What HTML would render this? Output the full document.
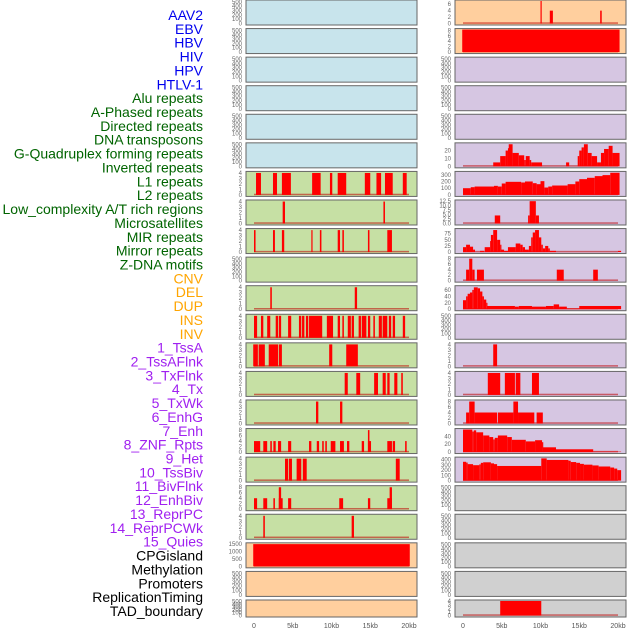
<!DOCTYPE html>
<html><head><meta charset="utf-8"><style>
html,body{margin:0;padding:0;background:#fff;width:630px;height:630px;overflow:hidden}
svg{display:block;font-family:"Liberation Sans",sans-serif}
</style></head><body>
<svg id="chart" width="630" height="630" viewBox="0 0 630 630" xmlns="http://www.w3.org/2000/svg">
<g id="labels"></g>
<g id="panels"></g>
<g id="xaxis"></g>
</svg>
<script>
// ---- labels ----
const labelNames = ["AAV2","EBV","HBV","HIV","HPV","HTLV-1","Alu repeats","A-Phased repeats","Directed repeats","DNA transposons","G-Quadruplex forming repeats","Inverted repeats","L1 repeats","L2 repeats","Low_complexity A/T rich regions","Microsatellites","MIR repeats","Mirror repeats","Z-DNA motifs","CNV","DEL","DUP","INS","INV","1_TssA","2_TssAFlnk","3_TxFlnk","4_Tx","5_TxWk","6_EnhG","7_Enh","8_ZNF_Rpts","9_Het","10_TssBiv","11_BivFlnk","12_EnhBiv","13_ReprPC","14_ReprPCWk","15_Quies","CPGisland","Methylation","Promoters","ReplicationTiming","TAD_boundary"];
const labelGroups = [6,13,5,15,5];
const labelColors = ["#0000ee","#006400","#ffa500","#a020f0","#000000"];

// ---- x axis ----
const xTicks = [0,5,10,15,20];
const xTickLabels = ["0","5kb","10kb","15kb","20kb"];

// ---- left column interval tracks (kb start, kb end, value) ----
const L6 = [[0.26,0.9,4],[2.45,2.97,4],[3.6,4.76,4],[7.5,8.6,4],[9.8,10.1,4],[10.8,11.9,4],[14.3,15.0,4],[15.8,16.4,4],[16.9,17.9,4],[19.2,19.7,4]];
const L7 = [[3.7,4.0,4],[16.7,16.9,4]];
const L8 = [[0,0.2,4],[2.45,2.7,4],[3.6,3.9,4],[7.4,7.55,4],[8.5,8.7,4],[10.8,11.1,4],[11.4,11.6,4],[14.7,14.9,4],[17.2,17.8,4]];
const L10 = [[2.1,2.3,4],[13.0,13.3,4]];
const L11 = [[0,0.4,4],[0.9,1.2,4],[1.7,2.1,4],[2.8,3.1,4],[3.2,3.5,4],[4.4,4.8,4],[5.8,6.1,4],[6.2,6.5,4],[6.7,7.0,4],[7.1,8.8,4],[9.4,10.2,4],[10.8,11.1,4],[11.4,11.6,4],[12.1,12.5,4],[12.6,12.9,4],[13.5,13.8,4],[13.9,14.5,4],[14.7,15.0,4],[15.4,15.6,4],[16.1,16.5,4],[16.6,17.2,4],[17.4,17.7,4],[17.9,18.2,4],[19.2,19.5,4]];
const L12 = [[-0.1,0.5,4],[0.6,1.4,4],[1.9,3.1,4],[3.2,3.6,4],[9.7,10.1,4],[11.9,13.4,4]];
const L13 = [[11.7,12.1,4],[13.2,13.7,4],[15.5,16.0,4],[16.6,17.0,4],[17.2,17.5,4],[18.1,18.5,4],[19.0,19.2,4]];
const L14 = [[8.0,8.3,4],[11.1,11.4,4]];
const L15 = [[0,0.8,4],[1.2,1.7,4],[2.1,2.3,4],[2.5,2.8,4],[3.1,3.5,4],[4.4,4.8,4],[7.1,7.4,4],[8.1,8.4,4],[8.8,9.0,4],[9.2,9.4,4],[9.9,10.5,4],[11.1,11.6,4],[12.0,12.3,4],[13.9,14.2,4],[14.7,15.1,4],[14.7,14.9,8],[17.2,17.8,4],[17.9,18.2,4],[19.5,19.7,4]];
const L16 = [[4.0,4.4,4],[4.5,4.9,4],[5.5,6.1,4],[6.3,6.8,4],[18.3,18.8,4]];
const L17 = [[0,0.4,4],[1.2,1.7,4],[2.5,2.7,4],[3.2,3.7,4],[3.2,3.5,8],[4.4,4.8,4],[11.0,11.5,4],[14.7,15.0,4],[17.2,17.8,4],[17.5,17.8,8]];
const L18 = [[1.2,1.4,4],[12.6,12.9,4]];
const L19 = [[-0.1,20.1,1480]];

// ---- right column tracks ----
const R0 = [[10.0,10.12,7.5],[11.2,11.6,4],[17.7,17.9,4]];
const R1 = [[-0.1,20.2,8.3]];
const R5 = [[3.9,4.8,5],[4.8,5.5,13],[5.5,5.8,20],[5.8,5.9,23],[5.9,6.4,28],[6.4,7.2,17],[7.2,7.9,14],[7.9,8.1,8],[8.1,8.6,13],[8.6,8.8,8],[8.8,10.2,5],[13.3,13.7,5],[14.8,15.0,13],[15.0,15.3,20],[15.3,15.6,24],[15.6,16.1,28],[16.1,16.6,17],[16.6,17.3,13],[17.3,17.8,5],[17.8,18.2,17],[18.2,18.8,22],[18.8,19.3,26],[19.3,20.2,17]];
const R6 = [[0,1,100],[1,1.5,115],[1.5,4,125],[4,4.5,135],[4.5,5,125],[5,5.5,170],[5.5,7.5,195],[7.5,8,185],[8,9,200],[9,9.5,175],[9.5,10,160],[10,10.5,205],[10.5,11,110],[11,11.5,125],[11.5,13.5,140],[13.5,14.5,160],[14.5,15,200],[15,16,235],[16,17,255],[17,18,280],[18,19,295],[19,20.2,330]];
const R7 = [[4.1,4.8,4.5],[8.4,8.6,4.5],[8.6,9.4,12.5],[9.4,9.8,4.5]];
const R8 = [[0,0.4,20],[0.4,0.9,30],[0.9,1.3,22],[1.3,1.55,10],[2.2,2.7,5],[2.8,3.5,20],[3.5,3.6,45],[3.6,3.9,70],[3.9,4.4,90],[4.4,4.8,50],[4.8,4.9,30],[4.9,5.3,10],[5.3,5.8,5],[5.8,6.8,20],[6.8,7.4,35],[7.4,7.7,30],[7.7,8.0,20],[8.0,8.5,10],[8.5,8.8,25],[8.8,9.0,60],[9.0,9.3,80],[9.3,9.8,90],[9.8,10.1,60],[10.1,10.3,30],[10.3,10.6,15],[10.6,11.0,25],[11.0,11.2,15],[11.2,12.0,5],[20.0,20.4,5]];
const R9 = [[0.4,0.8,4],[0.8,1.2,8],[1.2,1.5,4],[1.8,2.7,4],[12.1,13.0,4],[16.8,17.4,4]];
const R10 = [[0,0.4,28],[0.4,0.6,40],[0.6,0.9,48],[0.9,1.2,52],[1.2,1.4,60],[1.4,1.9,68],[1.9,2.2,65],[2.2,2.5,55],[2.5,2.7,40],[2.7,3.0,30],[3.0,3.1,20],[3.1,6.7,10],[6.7,7.2,8],[7.2,8.9,10],[8.9,10.7,8],[10.7,11.7,10],[11.7,12.4,15],[12.4,13.4,8],[13.4,15.0,2],[15.0,20.4,10]];
const R12 = [[3.9,4.4,4]];
const R13 = [[3.2,4.8,4],[5.4,6.7,4],[6.8,7.4,4],[8.9,9.8,4]];
const R14 = [[0.4,0.8,4],[0.8,1.5,8],[1.5,4.4,4],[4.5,6.5,4],[6.5,7.1,8],[7.1,9.2,4],[9.5,10.3,4]];
const R15 = [[0,1.2,57],[1.2,1.4,52],[1.4,1.7,55],[1.7,2.6,50],[2.6,3.4,42],[3.4,3.9,38],[3.9,4.1,32],[4.1,4.5,36],[4.5,5.7,42],[5.7,6.3,38],[6.3,8.1,31],[8.1,9.3,27],[9.3,10.2,30],[10.2,10.3,25],[10.3,12.0,12],[12.0,16.8,7],[16.8,20.4,1]];
const R16 = [[0,0.4,360],[0.4,0.6,345],[0.6,1.3,315],[1.3,2.1,295],[2.1,2.3,310],[2.3,2.6,340],[2.6,3.6,350],[3.6,4.0,330],[4.0,4.4,315],[4.4,10.1,280],[10.1,10.8,425],[10.8,13.6,395],[13.6,13.9,380],[13.9,14.6,355],[14.6,15.1,340],[15.1,15.6,320],[15.6,16.7,305],[16.7,17.5,290],[17.5,19.0,270],[19.0,19.5,250],[19.5,19.9,230],[19.9,20.4,200]];
const R21 = [[4.8,10.1,4]];

// ---- tick sets ----
const T500 = [0,100,200,300,400,500];
const T4 = [0,1,2,3,4];
const T8 = [0,2,4,6,8];

const BLUE="#c8e4ec", GREEN="#c6e0a4", ORANGE="#ffcf9e", PURPLE="#d6c6e2", GRAY="#d0d0d0";
const leftTracks = [
 [BLUE,null,520,T500],[BLUE,null,520,T500],[BLUE,null,520,T500],[BLUE,null,520,T500],[BLUE,null,520,T500],[BLUE,null,520,T500],
 [GREEN,L6,4.1,T4],[GREEN,L7,4.1,T4],[GREEN,L8,4.1,T4],[GREEN,null,520,T500],[GREEN,L10,4.1,T4],[GREEN,L11,4.1,T4],
 [GREEN,L12,4.1,T4],[GREEN,L13,4.1,T4],[GREEN,L14,4.1,T4],[GREEN,L15,8.2,T8],[GREEN,L16,4.1,T4],[GREEN,L17,8.2,T8],[GREEN,L18,4.1,T4],
 [ORANGE,L19,1500,[0,500,1000,1500]],[ORANGE,null,520,T500],[ORANGE,null,520,T500]
];
const rightTracks = [
 [ORANGE,R0,7,[0,2,4,6]],[ORANGE,R1,8.3,T8],[PURPLE,null,520,T500],[PURPLE,null,520,T500],[PURPLE,null,520,T500],
 [PURPLE,R5,28.5,[0,10,20]],[PURPLE,R6,335,[0,100,200,300]],[PURPLE,R7,12.6,[0,2.5,5,7.5,10,12.5]],[PURPLE,R8,92,[0,25,50,75]],
 [PURPLE,R9,8.2,T8],[PURPLE,R10,70,[0,20,40,60]],[PURPLE,null,520,T500],[PURPLE,R12,4.1,T4],[PURPLE,R13,4.1,T4],[PURPLE,R14,8.2,T8],
 [PURPLE,R15,57,[0,20,40]],[PURPLE,R16,430,[0,100,200,300,400]],[GRAY,null,520,T500],[GRAY,null,520,T500],[GRAY,null,520,T500],[GRAY,null,520,T500],
 [GRAY,R21,4,T4]
];

const NS="http://www.w3.org/2000/svg";
function mk(tag, attrs, parent){const e=document.createElementNS(NS,tag);for(const k in attrs)e.setAttribute(k,attrs[k]);parent.appendChild(e);return e;}

// labels
const lg=document.getElementById('labels');
let gi=0,gc=0;
labelNames.forEach((n,i)=>{
  while(gc>=labelGroups[gi]){gi++;gc=0;}
  gc++;
  const t=mk('text',{x:203,y:15+i*13.86+5,'text-anchor':'end','font-size':'14',fill:labelColors[gi]},lg);
  
  
  t.textContent=n;
});

const pg=document.getElementById('panels');
function rowTop(i){return i===21?600:i*28.57;}
function rowH(i){return i===21?17:25;}
function drawColumn(tracks, x0, colName){
  const W=171, zeroX=x0+8, pxkb=7.75;
  const xs=kb=>zeroX+kb*pxkb;
  tracks.forEach((tr,i)=>{
    const [bg,data,ymax,ticks]=tr;
    const top=rowTop(i), h=rowH(i);
    const g=mk('g',{},pg);
    
    
    const r=mk('rect',{x:x0,y:top,width:W,height:h,fill:bg,stroke:'#666','stroke-width':1},g);
    
    
    const yb=top+h-1.5, yr=h-2.5;
    const ys=v=>yb-Math.min(v,ymax)/ymax*yr;
    ticks.forEach(v=>{
      const t=mk('text',{x:x0-4,y:ys(v)+2,'text-anchor':'end','font-size':'6',fill:'#666'},g);
      
      
      t.textContent=(ymax>12&&ymax<13)?v.toFixed(1):String(v);
    });
    if(data){
      const bl=mk('rect',{x:xs(0),y:yb-1.2,width:xs(20)-xs(0),height:1.5,fill:'rgba(190,0,0,0.55)'},g);
      
      
      data.forEach(d=>{
        const x1=Math.max(xs(d[0]),x0+0.5), x2=Math.min(xs(d[1]),x0+W-0.5);
        const y=ys(d[2]);
        const b=mk('rect',{x:x1,y:Math.max(y,top+0.5),width:Math.max(x2-x1,1.2),height:yb-Math.max(y,top+0.5),fill:'#ff0000'},g);
        
        
      });
    }
  });
  const xg=document.getElementById('xaxis');
  xTicks.forEach((v,k)=>{
    const t=mk('text',{x:xs(v),y:628,'text-anchor':'middle','font-size':'7',fill:'#555'},xg);
    
    
    t.textContent=xTickLabels[k];
  });
}
drawColumn(leftTracks,246,'left');
drawColumn(rightTracks,455,'right');
</script>
</body></html>
